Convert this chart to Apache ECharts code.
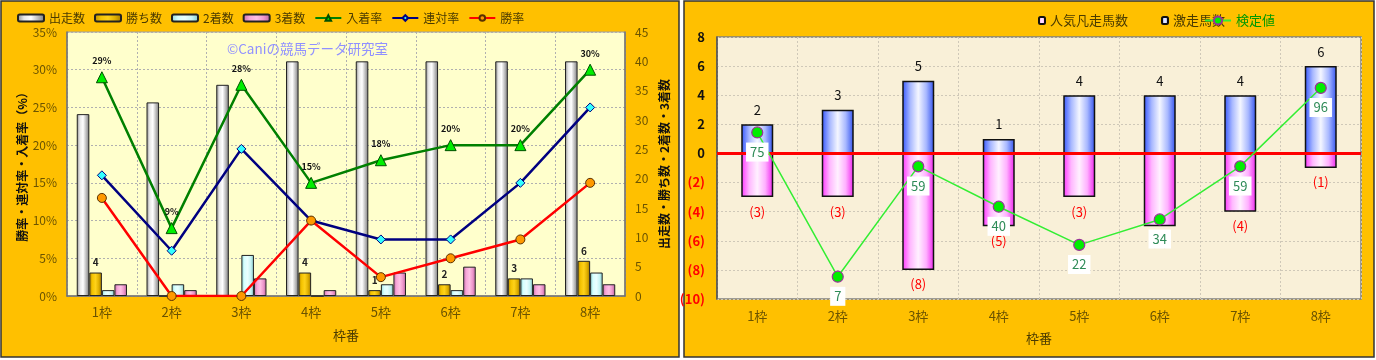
<!DOCTYPE html>
<html><head><meta charset="utf-8">
<script src="https://cdn.jsdelivr.net/npm/echarts@6/dist/echarts.min.js"></script>
<style>html,body{margin:0;padding:0;background:#fff}#c{width:1376px;height:360px}</style>
</head><body><div id="c"></div>
<script>
// ---------- data ----------
const categories = ['1枠','2枠','3枠','4枠','5枠','6枠','7枠','8枠'];
// left chart (counts, right axis)
const runners = [31, 33, 36, 40, 40, 40, 40, 40];
const wins    = [4, 0, 0, 4, 1, 2, 3, 6];
const seconds = [1, 2, 7, 0, 2, 1, 3, 4];
const thirds  = [2, 1, 3, 1, 4, 5, 2, 2];
// left chart (rates %, left axis)
const placeRate = [29, 9, 28, 15, 18, 20, 20, 30];
const top2Rate  = [16, 6, 19.5, 10, 7.5, 7.5, 15, 25];
const winRate   = [13, 0, 0, 10, 2.5, 5, 7.5, 15];
// right chart
const popularFail = [3, 3, 8, 5, 3, 5, 4, 1];
const hotRun      = [2, 3, 5, 1, 4, 4, 4, 6];
const testValue   = [75, 7, 59, 40, 22, 34, 59, 96];

const FONT = '"Noto Sans CJK JP", "Noto Sans", sans-serif';
const AX = '#6b5300';
const hg = (stops) => new echarts.graphic.LinearGradient(0, 0, 1, 0, stops.map((c, i) => ({offset: i / (stops.length - 1), color: c})));

const chart = echarts.init(document.getElementById('c'));
const dotted = {show: true, lineStyle: {color: '#b0b0b0', type: [2, 2], width: 1}};

const option = {
  animation: false,
  textStyle: {fontFamily: FONT},
  graphic: [
    {type: 'rect', z: -100, shape: {x: 1, y: 1, width: 678, height: 356}, style: {fill: '#FFC000', stroke: '#333', lineWidth: 1.5}},
    {type: 'rect', z: -100, shape: {x: 684, y: 1, width: 690, height: 356}, style: {fill: '#FFC000', stroke: '#333', lineWidth: 1.5}},
    {type: 'text', z: 5, x: 227, y: 42, style: {text: '©Caniの競馬データ研究室', fill: '#9090ff', font: '13.5px ' + FONT}}
  ],
  grid: [
    {left: 67, top: 32, width: 558, height: 264, show: true, backgroundColor: '#FFFFCC', borderColor: '#a0a0a0', borderWidth: 1},
    {left: 717, top: 37, width: 644, height: 262, show: true, backgroundColor: '#F9F0D8', borderColor: '#808080', borderWidth: 1.5}
  ],
  legend: [
    {left: 12, top: 7, itemWidth: 26, itemHeight: 7, itemGap: 9,
     textStyle: {fontSize: 12, color: '#4a3a00', fontFamily: FONT},
     data: ['出走数', '勝ち数', '2着数', '3着数', '入着率', '連対率', '勝率']},
    {left: 1033, top: 9, itemWidth: 6, itemHeight: 7, textStyle: {fontSize: 13, color: '#4a3a00', fontFamily: FONT}, data: ['人気凡走馬数']},
    {left: 1156, top: 9, itemWidth: 6, itemHeight: 7, textStyle: {fontSize: 13, color: '#4a3a00', fontFamily: FONT}, data: ['激走馬数']},
    {left: 1199, top: 9, itemWidth: 26, itemHeight: 10, textStyle: {fontSize: 13, color: '#009900', fontFamily: FONT}, data: ['検定値']}
  ],
  xAxis: [
    {gridIndex: 0, type: 'category', data: categories,
     axisLine: {lineStyle: {color: '#707070', width: 1.5}}, axisTick: {show: false},
     axisLabel: {color: AX, fontSize: 13, margin: 10},
     splitLine: dotted,
     name: '枠番', nameLocation: 'middle', nameGap: 33, nameTextStyle: {color: '#4a3a00', fontSize: 13}},
    {gridIndex: 1, type: 'category', data: categories,
     axisLine: {lineStyle: {color: '#808080', width: 1.5}}, axisTick: {show: false},
     axisLabel: {color: AX, fontSize: 13, margin: 11},
     splitLine: {show: true, lineStyle: {color: '#cfc8b8', type: [2, 2]}},
     name: '枠番', nameLocation: 'middle', nameGap: 33, nameTextStyle: {color: '#4a3a00', fontSize: 13}}
  ],
  yAxis: [
    {gridIndex: 0, type: 'value', min: 0, max: 35, interval: 5, position: 'left',
     axisLine: {show: true, lineStyle: {color: '#707070', width: 1.5}}, axisTick: {show: false},
     axisLabel: {formatter: '{value}%', color: AX, fontSize: 12, margin: 10},
     splitLine: dotted,
     name: '勝率・連対率・入着率（%）', nameLocation: 'middle', nameRotate: 90, nameGap: 34,
     nameTextStyle: {color: '#111', fontSize: 12, fontWeight: 'bold'}},
    {gridIndex: 0, type: 'value', min: 0, max: 45, interval: 5, position: 'right',
     axisLine: {show: true, lineStyle: {color: '#707070', width: 1.5}}, axisTick: {show: false},
     axisLabel: {color: AX, fontSize: 12, margin: 10},
     splitLine: {show: false},
     name: '出走数・勝ち数・2着数・3着数', nameLocation: 'middle', nameRotate: 90, nameGap: 33,
     nameTextStyle: {color: '#111', fontSize: 12, fontWeight: 'bold'}},
    {gridIndex: 1, type: 'value', min: -10, max: 8, interval: 2,
     axisLine: {show: true, lineStyle: {color: '#505050', width: 1.5}}, axisTick: {show: false},
     axisLabel: {fontSize: 13, margin: 12, fontWeight: 'bold',
       formatter: v => v < 0 ? '(' + (-v) + ')' : String(v),
       color: v => (Number(v) < 0 ? '#ff0000' : '#111')},
     splitLine: {show: true, lineStyle: {color: '#cfc8b8', type: [2, 2]}}},
    {gridIndex: 1, type: 'value', min: -3.5, max: 120, show: false, splitLine: {show: false}}
  ],
  series: [
    {name: '出走数', type: 'bar', xAxisIndex: 0, yAxisIndex: 1, data: runners, barGap: '0%', barCategoryGap: '28%',
     itemStyle: {color: hg(['#8a8a8a', '#e8e8e8', '#ffffff', '#bdbdbd', '#7a7a7a']), borderColor: '#222', borderWidth: 1}},
    {name: '勝ち数', type: 'bar', xAxisIndex: 0, yAxisIndex: 1, data: wins,
     itemStyle: {color: hg(['#b88a00', '#f5c400', '#ffd21a', '#e0b000', '#a07800']), borderColor: '#222', borderWidth: 1},
     label: {show: true, position: 'top', distance: 5, formatter: p => p.value > 0 ? p.value : '', fontSize: 10, fontWeight: 'bold', color: '#222'}},
    {name: '2着数', type: 'bar', xAxisIndex: 0, yAxisIndex: 1, data: seconds,
     itemStyle: {color: hg(['#8fd8d8', '#d8ffff', '#eaffff', '#c8f4f4', '#80c8c8']), borderColor: '#222', borderWidth: 1}},
    {name: '3着数', type: 'bar', xAxisIndex: 0, yAxisIndex: 1, data: thirds,
     itemStyle: {color: hg(['#c86aa8', '#f7a8d8', '#ffc0e4', '#ee98cc', '#b8609a']), borderColor: '#222', borderWidth: 1}},
    {name: '入着率', type: 'line', xAxisIndex: 0, yAxisIndex: 0, data: placeRate, z: 4,
     symbol: 'triangle', symbolSize: 11,
     lineStyle: {color: '#008000', width: 2.5}, itemStyle: {color: '#00ee00', borderColor: '#005000', borderWidth: 1},
     label: {show: true, position: 'top', distance: 6, formatter: '{c}%', fontSize: 9, fontWeight: 'bold', color: '#111'}},
    {name: '連対率', type: 'line', xAxisIndex: 0, yAxisIndex: 0, data: top2Rate, z: 4,
     symbol: 'diamond', symbolSize: 9,
     lineStyle: {color: '#000080', width: 2.5}, itemStyle: {color: '#33ffff', borderColor: '#000080', borderWidth: 1}},
    {name: '勝率', type: 'line', xAxisIndex: 0, yAxisIndex: 0, data: winRate, z: 4,
     symbol: 'circle', symbolSize: 9,
     lineStyle: {color: '#ff0000', width: 2.5}, itemStyle: {color: '#ff9900', borderColor: '#5a3000', borderWidth: 1}},

    {name: '人気凡走馬数', type: 'bar', xAxisIndex: 1, yAxisIndex: 2, stack: 'r', barWidth: 32,
     data: popularFail.map(v => -v),
     itemStyle: {color: hg(['#ff33ff', '#ffb8ff', '#fff0ff', '#ffb0ff', '#ee22ee']), borderColor: '#111', borderWidth: 1.5},
     label: {show: true, position: 'bottom', distance: 8, formatter: p => '(' + (-p.value) + ')', color: '#ff0000', fontSize: 13}},
    {name: '激走馬数', type: 'bar', xAxisIndex: 1, yAxisIndex: 2, stack: 'r', barWidth: 32,
     data: hotRun,
     itemStyle: {color: hg(['#3355ff', '#a8b8ff', '#f4f6ff', '#a8b8ff', '#3050ee']), borderColor: '#111', borderWidth: 1.5},
     label: {show: true, position: 'top', distance: 8, color: '#111', fontSize: 13},
     markLine: {silent: true, symbol: 'none', label: {show: false}, lineStyle: {color: '#ff0000', width: 3, type: 'solid'},
       data: [{yAxis: 0}]}},
    {name: '検定値', type: 'line', xAxisIndex: 1, yAxisIndex: 3, data: testValue, z: 6,
     symbol: 'circle', symbolSize: 11,
     lineStyle: {color: '#33ee33', width: 1.5}, itemStyle: {color: '#00ee00', borderColor: '#993399', borderWidth: 1.2},
     label: {show: true, position: 'bottom', distance: 4, color: '#2e8b57', fontSize: 13, backgroundColor: '#ffffff', padding: [3, 4]}}
  ]
};
chart.setOption(option);
</script>
</body></html>
